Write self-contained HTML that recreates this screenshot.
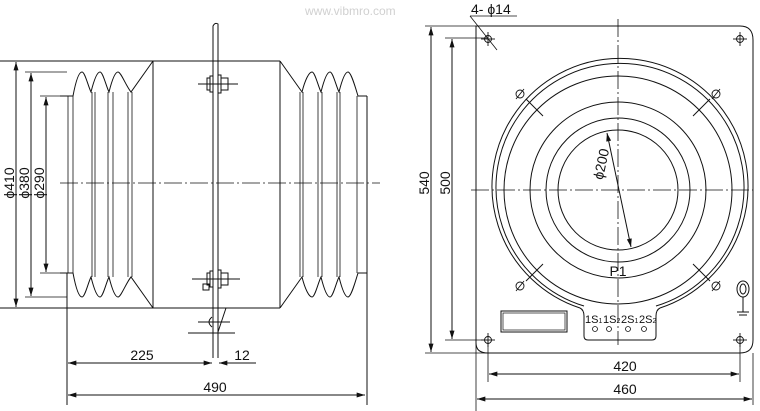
<!DOCTYPE html>
<html><head><meta charset="utf-8"><style>
html,body{margin:0;padding:0;background:#fff}
svg{display:block}
text{font-family:"Liberation Sans",sans-serif;fill:#111}
</style></head><body>
<svg width="760" height="411" viewBox="0 0 760 411" xmlns="http://www.w3.org/2000/svg">
<defs>
<marker id="a" viewBox="0 0 10 6" refX="10" refY="3" markerWidth="9" markerHeight="5" orient="auto-start-reverse" markerUnits="userSpaceOnUse"><path d="M0,0 L10,3 L0,6z" fill="#111"/></marker>
</defs>
<text x="305" y="15" font-size="12" style="fill:#d0d0d0">www.vibmro.com</text>
<g fill="none" stroke="#111" stroke-width="1">
<line x1="0" y1="61" x2="280" y2="61"/>
<line x1="0" y1="308" x2="280" y2="308"/>
<line x1="153" y1="61" x2="153" y2="308"/>
<line x1="280" y1="61" x2="280" y2="308"/>
<path d="M60,96 L73,96 C76,80 79,72 82,72 C85,72 88,86 91,92 C94,80 97,72 100,72 C103,72 106,86 109,92 C112,80 115,72 118,72 C121,72 126,86 131,92 L153,61"/>
<path d="M60,273 L73,273 C76,289 79,297 82,297 C85,297 88,283 91,277 C94,289 97,297 100,297 C103,297 106,283 109,277 C112,289 115,297 118,297 C121,297 126,283 131,277 L153,308"/>
<path d="M280,61 L302,92 C305,80 309,72 312,72 C315,72 318,86 321,92 C324,80 327,72 330,72 C333,72 336,86 339,92 C342,80 345,72 348,72 C351,72 355,86 358,96 L367,96"/>
<path d="M280,308 L302,277 C305,289 309,297 312,297 C315,297 318,283 321,277 C324,289 327,297 330,297 C333,297 336,283 339,277 C342,289 345,297 348,297 C351,297 355,283 358,273 L367,273"/>
<g stroke-width="0.8">
<line x1="68" y1="96" x2="68" y2="273"/><line x1="73" y1="96" x2="73" y2="273"/>
<line x1="92" y1="92" x2="92" y2="277"/><line x1="95" y1="92" x2="95" y2="277"/>
<line x1="108" y1="92" x2="108" y2="277"/><line x1="113" y1="92" x2="113" y2="277"/>
<line x1="128" y1="92" x2="128" y2="277"/><line x1="132" y1="92" x2="132" y2="277"/>
<line x1="300" y1="92" x2="300" y2="277"/><line x1="303" y1="92" x2="303" y2="277"/>
<line x1="318" y1="92" x2="318" y2="277"/><line x1="322" y1="92" x2="322" y2="277"/>
<line x1="337" y1="92" x2="337" y2="277"/><line x1="340" y1="92" x2="340" y2="277"/>
<line x1="357" y1="96" x2="357" y2="273"/>
</g>
<line x1="367" y1="96" x2="367" y2="405"/>
<line x1="67" y1="273" x2="67" y2="405"/>
<path d="M213,358 L213,26 Q215,22 218,24 L218,358"/>
<path d="M226,308 L218,332"/>
<line x1="198" y1="84" x2="238" y2="84"/>
<rect x="207" y="78" width="3" height="12"/><rect x="210" y="76" width="3" height="16"/>
<rect x="218" y="75" width="3" height="18"/><rect x="221" y="78" width="7" height="12"/>
<line x1="192" y1="279" x2="240" y2="279"/>
<rect x="207" y="273" width="3" height="12"/><rect x="210" y="271" width="3" height="16"/>
<rect x="218" y="270" width="3" height="18"/><rect x="221" y="273" width="7" height="12"/>
<rect x="203" y="284" width="6" height="6"/>
<line x1="198" y1="322" x2="230" y2="322"/>
<line x1="188" y1="333" x2="235" y2="333"/>
<path d="M212,317 Q206,322 212,327"/>
<line x1="60" y1="183" x2="380" y2="183" stroke-dasharray="18,3,2,3" stroke-width="0.8"/>
<line x1="67" y1="72" x2="25" y2="72" stroke-width="0.8"/>
<line x1="70" y1="96" x2="40" y2="96" stroke-width="0.8"/>
<line x1="70" y1="273" x2="40" y2="273" stroke-width="0.8"/>
<line x1="67" y1="297" x2="25" y2="297" stroke-width="0.8"/>
<line x1="16" y1="62" x2="16" y2="307" marker-start="url(#a)" marker-end="url(#a)"/>
<line x1="31" y1="73" x2="31" y2="296" marker-start="url(#a)" marker-end="url(#a)"/>
<line x1="46" y1="97" x2="46" y2="272" marker-start="url(#a)" marker-end="url(#a)"/>
<line x1="68" y1="363" x2="212" y2="363" marker-start="url(#a)" marker-end="url(#a)"/>
<line x1="256" y1="363" x2="219" y2="363" marker-end="url(#a)"/>
<line x1="68" y1="395" x2="365" y2="395" marker-start="url(#a)" marker-end="url(#a)"/>
<path d="M476,26 L740,26 Q753,26 753,40 L753,340 Q753,353 740,353 L488,353 Q476,353 476,343 Z"/>
<line x1="476" y1="343" x2="476" y2="411" stroke-width="0.8"/>
<line x1="753" y1="353" x2="753" y2="405" stroke-width="0.8"/>
<line x1="488" y1="340" x2="488" y2="382" stroke-width="0.8"/>
<line x1="740" y1="340" x2="740" y2="382" stroke-width="0.8"/>
<line x1="425" y1="26" x2="476" y2="26" stroke-width="0.8"/>
<line x1="425" y1="353" x2="488" y2="353" stroke-width="0.8"/>
<line x1="445" y1="38" x2="488" y2="38" stroke-width="0.8"/>
<line x1="445" y1="340" x2="488" y2="340" stroke-width="0.8"/>
<path d="M580,308 A128,128 0 1 1 660,308"/>
<path d="M584,306 A124,124 0 1 1 656,306"/>
<path d="M580,308 Q584,310 584,316 L584,336 Q584,340 588,340 L652,340 Q656,340 656,336 L656,316 Q656,310 660,308"/>
<circle cx="618" cy="190" r="114"/>
<circle cx="618" cy="190" r="88"/>
<circle cx="618" cy="190" r="72"/>
<circle cx="618" cy="190" r="60"/>
<line x1="618" y1="19" x2="618" y2="345" stroke-dasharray="18,3,2,3" stroke-width="0.8"/>
<line x1="471" y1="190" x2="753" y2="190" stroke-dasharray="18,3,2,3" stroke-width="0.8"/>
<line x1="607" y1="133" x2="631" y2="247" marker-start="url(#a)" marker-end="url(#a)"/>
<line x1="526" y1="99" x2="543" y2="116"/><line x1="710" y1="99" x2="693" y2="116"/>
<line x1="526" y1="281" x2="543" y2="264"/><line x1="710" y1="281" x2="693" y2="264"/>
<g stroke-width="0.9">
<circle cx="520" cy="94" r="4"/><line x1="516" y1="99" x2="524" y2="89"/>
<circle cx="716" cy="94" r="4"/><line x1="712" y1="99" x2="720" y2="89"/>
<circle cx="520" cy="286" r="4"/><line x1="516" y1="291" x2="524" y2="281"/>
<circle cx="716" cy="286" r="4"/><line x1="712" y1="291" x2="720" y2="281"/>
<circle cx="488" cy="39" r="3.5"/><line x1="481" y1="39" x2="495" y2="39"/><line x1="488" y1="32" x2="488" y2="46"/>
<circle cx="740" cy="39" r="3.5"/><line x1="733" y1="39" x2="747" y2="39"/><line x1="740" y1="32" x2="740" y2="46"/>
<circle cx="488" cy="340" r="3.5"/><line x1="481" y1="340" x2="495" y2="340"/><line x1="488" y1="333" x2="488" y2="347"/>
<circle cx="740" cy="340" r="3.5"/><line x1="733" y1="340" x2="747" y2="340"/><line x1="740" y1="333" x2="740" y2="347"/>
</g>
<path d="M470,16 L497,50" stroke-width="0.8"/>
<line x1="470" y1="16" x2="517" y2="16" stroke-width="0.8"/>
<ellipse cx="743" cy="289" rx="6" ry="8"/><ellipse cx="743" cy="289" rx="3" ry="5"/>
<line x1="743" y1="297" x2="743" y2="312"/>
<line x1="737" y1="312" x2="749" y2="312"/><line x1="739" y1="315" x2="747" y2="315"/>
<rect x="501" y="311" width="66" height="21"/>
<rect x="503" y="313" width="62" height="17" stroke-width="0.7"/>
<g stroke-width="0.8">
<circle cx="595" cy="329" r="2.5"/><circle cx="609" cy="329" r="2.5"/>
<circle cx="628" cy="329" r="2.5"/><circle cx="644" cy="329" r="2.5"/>
</g>
<line x1="431" y1="27" x2="431" y2="352" marker-start="url(#a)" marker-end="url(#a)"/>
<line x1="452" y1="39" x2="452" y2="339" marker-start="url(#a)" marker-end="url(#a)"/>
<line x1="489" y1="374" x2="739" y2="374" marker-start="url(#a)" marker-end="url(#a)"/>
<line x1="477" y1="399" x2="752" y2="399" marker-start="url(#a)" marker-end="url(#a)"/>
</g>
<g font-size="14">
<text transform="translate(14,183) rotate(-90)" text-anchor="middle">ϕ410</text>
<text transform="translate(29,183) rotate(-90)" text-anchor="middle">ϕ380</text>
<text transform="translate(44,183) rotate(-90)" text-anchor="middle">ϕ290</text>
<text x="142" y="360" text-anchor="middle">225</text>
<text x="242" y="360" text-anchor="middle">12</text>
<text x="215" y="392" text-anchor="middle">490</text>
<text transform="translate(429,183) rotate(-90)" text-anchor="middle">540</text>
<text transform="translate(450,183) rotate(-90)" text-anchor="middle">500</text>
<text x="625" y="371" text-anchor="middle">420</text>
<text x="625" y="394" text-anchor="middle">460</text>
<text x="471" y="14">4- ϕ14</text>
<text transform="translate(606,165) rotate(-78)" text-anchor="middle">ϕ200</text>
<text x="618" y="276" text-anchor="middle">P1</text>
</g>
<g font-size="11">
<text x="585" y="323">1S<tspan font-size="7">1</tspan></text>
<text x="603" y="323">1S<tspan font-size="7">2</tspan></text>
<text x="621" y="323">2S<tspan font-size="7">1</tspan></text>
<text x="639" y="323">2S<tspan font-size="7">2</tspan></text>
</g>
</svg>
</body></html>
